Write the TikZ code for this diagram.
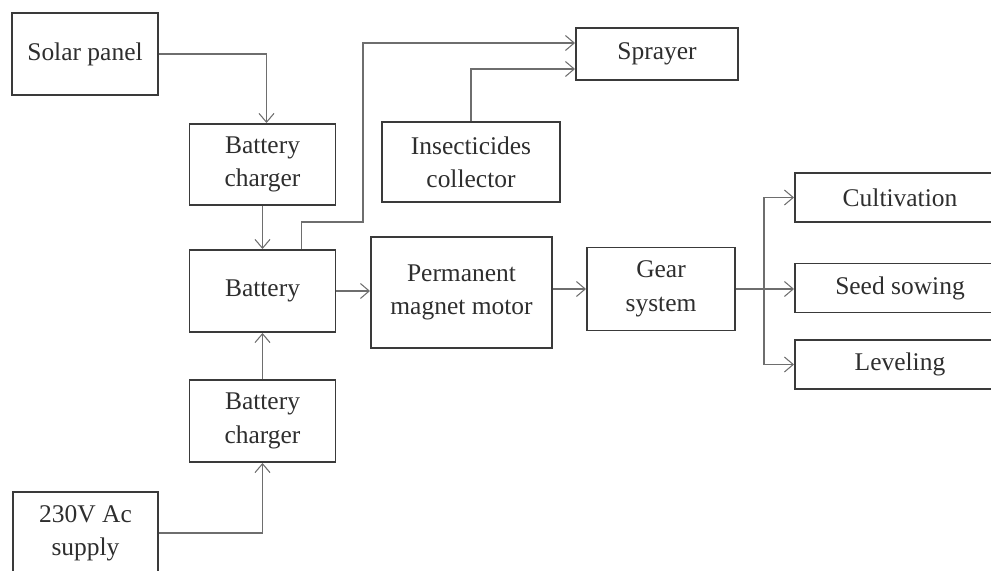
\documentclass[tikz,border=0pt]{standalone}
\usepackage{fontspec}
\setmainfont{Liberation Serif}
\usetikzlibrary{arrows.meta}

\definecolor{boxline}{HTML}{3A3A3A}
\definecolor{arrline}{HTML}{6E6E6E}
\definecolor{txt}{HTML}{2E2E2E}

\begin{document}
\begin{tikzpicture}[x=0.02cm, y=-0.02cm,
    blk/.style={draw=boxline, line width=1.1pt, inner sep=0pt, align=center,
                text=txt, font=\fontsize{14.5}{19}\selectfont},
    arr/.style={draw=arrline, line width=0.6pt,
                -{Straight Barb[length=5pt, width=8.5pt]}}]
    \useasboundingbox (0,0) rectangle (991,571);
    \clip (0,0) rectangle (991,571);
    % linke Spalte:
    \node[blk, minimum width=146*0.02cm, minimum height=82*0.02cm] (solar) at (85,54) {Solar panel};
    \node[blk, minimum width=146*0.02cm, minimum height=81*0.02cm] (charger1) at (262.5,164.5) {Battery\\charger};
    \node[blk, minimum width=146*0.02cm, minimum height=82*0.02cm] (battery) at (262.5,291) {Battery};
    \node[blk, minimum width=146*0.02cm, minimum height=82*0.02cm] (charger2) at (262.5,421) {Battery\\charger};
    \node[blk, minimum width=145*0.02cm, minimum height=82*0.02cm] (supply) at (85.5,533) {230V Ac\\supply};
    % Spruehsystem:
    \node[blk, minimum width=162*0.02cm, minimum height=52*0.02cm] (sprayer) at (657,54) {Sprayer};
    \node[blk, minimum width=178*0.02cm, minimum height=80*0.02cm] (insect) at (471,162) {Insecticides\\collector};
    % Antrieb:
    \node[blk, minimum width=181*0.02cm, minimum height=111*0.02cm] (motor) at (461.5,292.5) {Permanent\\magnet motor};
    \node[blk, minimum width=148*0.02cm, minimum height=83*0.02cm] (gear) at (661,289) {Gear\\system};
    % Anwendungen:
    \node[blk, minimum width=210*0.02cm, minimum height=49*0.02cm] (cultivation) at (900,197.5) {Cultivation};
    \node[blk, minimum width=210*0.02cm, minimum height=49*0.02cm] (seed) at (900,288) {Seed sowing};
    \node[blk, minimum width=210*0.02cm, minimum height=49*0.02cm] (leveling) at (900,364.5) {Leveling};
    % Hilfspunkte:
    \coordinate (bend) at (363,222);
    \coordinate (split) at (764,289);
    % Pfeile Ladung:
    \draw[arr] (solar.east) -| ([xshift=0.08cm]charger1.north);
    \draw[arr] (charger1.south) -- (battery.north);
    \draw[arr] (charger2.north) -- (battery.south);
    \draw[arr] (supply.east) -| (charger2.south);
    % Pfeile zum Sprayer:
    \draw[arr] ([xshift=0.78cm]battery.north) |- (bend) |- ([yshift=0.22cm]sprayer.west);
    \draw[arr] (insect.north) |- ([yshift=-0.3cm]sprayer.west);
    % Pfeile Antrieb:
    \draw[arr] (battery.east) -- (motor.west |- battery.east);
    \draw[arr] (motor.east |- gear.west) -- (gear.west);
    \draw[draw=arrline, line width=0.6pt] (gear.east) -- (split);
    \draw[arr] (split) |- (cultivation.west);
    \draw[arr] (split) -- (split -| seed.west);
    \draw[arr] (split) |- (leveling.west);
\end{tikzpicture}
\end{document}
